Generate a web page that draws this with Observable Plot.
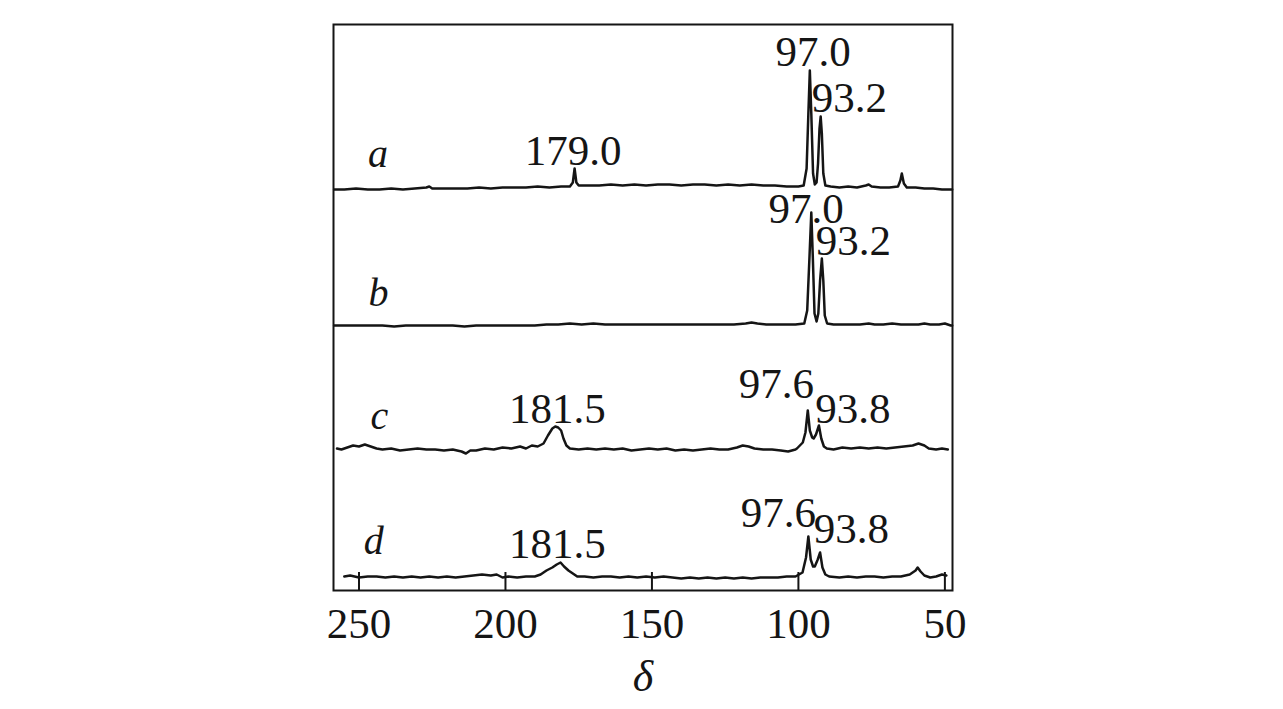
<!DOCTYPE html>
<html><head><meta charset="utf-8">
<script src="https://cdn.jsdelivr.net/npm/d3@7"></script>
<script src="https://cdn.jsdelivr.net/npm/@observablehq/plot@0.6"></script>
<style>body{margin:0;background:#fff}</style>
</head><body><div id="chart"></div>
<script>
// Spectrum traces: [δ, intensity above the trace's own baseline]
const traceA = [[258.5,-1],[255,-1],[251,0],[247,-1],[243,-1],[239,0],[235,-1],[231,0],[227,1],[226,2],[225,0],[221,0],[217,0],[213,0],[209,1],[205,0],[201,1],[197,1],[193,1],[189,2],[185,1],[181,2],[178,2],[177,6],[176.4,20],[175.8,6],[175,3],[172,3],[168,3],[164,4],[160,3],[156,4],[152,3],[148,4],[144,4],[140,3],[136,4],[132,4],[128,3],[124,4],[120,3],[116,4],[112,3],[108,3],[104,2],[100,2],[98.2,3],[97.2,20],[96.6,75],[96.1,118],[95.6,75],[95.0,15],[94.4,4],[93.8,6],[93.3,25],[92.8,60],[92.4,72],[92.0,55],[91.5,15],[90.8,3],[89,2],[86,1],[83,2],[80,1],[77,3],[76,4],[75,2],[72,1],[69,1],[66,2],[65.2,8],[64.7,15],[64.0,5],[63,1],[60,1],[57,0],[54,0],[51,-1],[47.5,-1]];
const traceB = [[258.5,0],[254,0],[250,0],[246,0],[242,0],[238,-1],[234,0],[230,0],[226,0],[222,0],[218,0],[214,-1],[210,0],[206,0],[202,0],[198,0],[194,0],[190,0],[186,1],[182,1],[178,2],[174,1],[170,2],[166,1],[162,1],[158,1],[154,1],[150,1],[146,1],[142,1],[138,1],[134,1],[130,1],[126,1],[122,1],[118,2],[116,3],[114,2],[111,1],[108,1],[104,1],[101,1],[98.0,2],[97.0,15],[96.2,70],[95.6,113],[95.1,70],[94.5,12],[93.8,4],[93.2,12],[92.6,45],[92.0,67],[91.5,45],[91.0,10],[90.2,2],[88,1],[85,1],[82,1],[79,1],[76,2],[74,1],[71,1],[68,2],[65,1],[62,1],[59,1],[57,2],[55,1],[52,1],[50,2],[48,0],[47.5,0]];
const traceC = [[257.5,0],[256,-1],[254,1],[252,3],[250,2],[248,4],[246,2],[244,0],[242,-1],[239,0],[236,-2],[233,-1],[230,0],[227,-1],[224,-1],[221,-2],[218,-1],[215,-3],[213.5,-5],[212,-2],[210,-2],[207,0],[204,-1],[201,1],[198,0],[195,2],[193,0],[191,3],[189,2],[187,5],[185.5,13],[184,20],[183,22],[182,21],[181,18],[180.2,10],[179.2,3],[178,0],[175,-1],[172,0],[169,-1],[166,0],[163,-1],[160,0],[157,-2],[154,-1],[151,0],[148,-1],[145,0],[142,-2],[139,-1],[136,-2],[133,-1],[130,0],[127,-1],[124,-1],[121,1],[119,3],[117,2],[115,0],[112,-1],[109,-1],[106,-2],[103.5,-3],[101,-1],[100.5,0],[99.5,3],[98.5,6],[97.6,16],[96.8,38],[96.1,18],[95.3,11],[94.8,10],[94.0,14],[93.0,23],[92.2,10],[91.3,2],[90.3,0],[88,-1],[85,1],[82,0],[79,1],[76,0],[73,1],[70,0],[67,1],[64,2],[61,3],[59,5],[57,3],[55.5,0],[53,-1],[51,0],[49,-1]];
const traceD = [[255,1],[253,2],[250,0],[247,1],[244,1],[241,0],[238,1],[235,0],[232,1],[229,0],[226,1],[223,0],[220,1],[217,0],[214,1],[211,2],[208,3],[205,2],[203,3],[201,0],[199,1],[196,0],[193,1],[190,1],[188,3],[186,7],[184,10],[182.5,13],[181.2,15],[180,11],[178.5,7],[177,4],[175.5,1],[173,1],[170,0],[167,1],[164,1],[161,0],[158,1],[155,0],[152,1],[149,0],[146,1],[143,0],[140,-1],[137,0],[134,-1],[131,0],[128,-1],[125,0],[122,-1],[119,0],[116,-1],[113,0],[110,0],[107,0],[104,1],[101,1],[99.8,3],[98.6,5],[97.4,20],[96.6,41],[95.8,18],[95.0,11],[94.4,11],[93.4,18],[92.6,25],[91.8,10],[90.8,3],[89.5,1],[86,0],[83,1],[80,0],[77,1],[74,1],[71,0],[68,1],[65,1],[62,3],[60,7],[59.3,10],[58.3,6],[57,2],[55,0],[53,1],[51,3],[49.5,2]];

// Vertical stacking offsets of each trace (arbitrary intensity units)
const traceNames = ["a", "b", "c", "d"];
const traceOffsets = [402, 265, 142, 13];

const xTicks = [250, 200, 150, 100, 50];

// Peak annotations: label, δ anchor, intensity anchor
const peakText = ["97.0", "93.2", "179.0", "97.0", "93.2", "181.5", "97.6", "93.8", "181.5", "97.6", "93.8"];
const peakX =    [95.0,   82.6,   176.9,   97.4,   81.2,   182.3,   107.5,  81.4,   182.3,   106.8,  81.9];
const peakY =    [538,    492,    439,     381,    349,    181,     206,    181,    46,      77,     61];

// Trace letter labels
const letterX = [243.5, 243.3, 243.0, 245.0];
const letterY = [436, 297, 174, 49];

const rows = [];
[traceA, traceB, traceC, traceD].forEach((arr, i) => {
  for (const [x, v] of arr) rows.push({trace: traceNames[i], x, y: traceOffsets[i] + v});
});
const peaks = peakText.map((t, i) => ({text: t, x: peakX[i], y: peakY[i]}));
const letters = traceNames.map((t, i) => ({text: t, x: letterX[i], y: letterY[i]}));

const ink = "#151515";
const chart = Plot.plot({
  width: 1283, height: 709,
  marginTop: 24, marginBottom: 119, marginLeft: 333, marginRight: 331,
  style: {fontFamily: "'Liberation Serif', 'Times New Roman', serif", background: "#fff", color: ink},
  x: {domain: [258.7, 47.4]},
  y: {domain: [0, 566], axis: null},
  marks: [
    Plot.line(rows, {x: "x", y: "y", z: "trace", stroke: ink, strokeWidth: 2.5, strokeLinejoin: "round"}),
    Plot.tickX(xTicks, {x: d => d, insetTop: 548, stroke: ink, strokeWidth: 2}),
    Plot.axisX(xTicks, {tickSize: 0, tickPadding: 17, fontSize: 43, label: null, fill: ink}),
    Plot.text(peaks, {x: "x", y: "y", text: "text", fontSize: 43, fill: ink}),
    Plot.text(letters, {x: "x", y: "y", text: "text", fontSize: 40, fontStyle: "italic", fill: ink}),
    Plot.text(["δ"], {frameAnchor: "bottom", text: d => d, dy: 100, fontSize: 44, fontStyle: "italic", fill: ink}),
    Plot.frame({stroke: ink, strokeWidth: 2})
  ]
});
document.getElementById("chart").append(chart);
</script>
</body></html>
